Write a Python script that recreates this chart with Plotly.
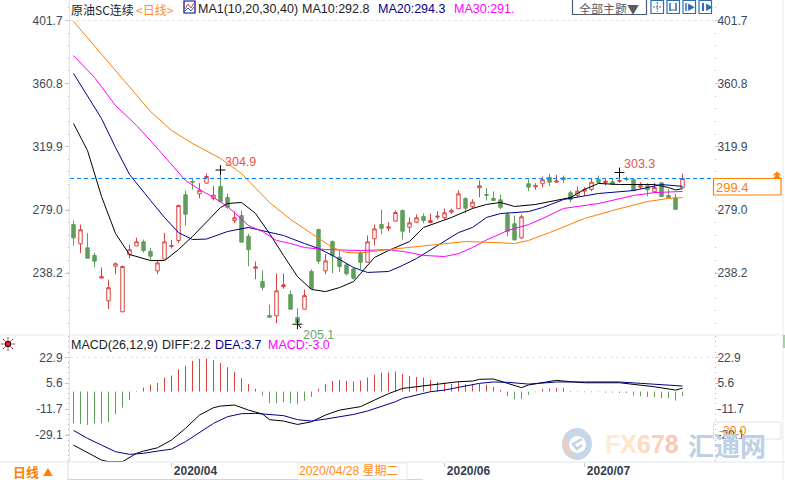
import math
import plotly.graph_objects as go

W, H = 785, 480
FONT = "Liberation Sans, Noto Sans CJK SC, sans-serif"
CJK = "Noto Sans CJK SC, Liberation Sans, sans-serif"

# daily candles
opens = [269.6, 257.1, 254.5, 249.6, 234.9, 220.2, 242.6, 213.1, 250.0, 255.8, 258.4,
         252.2, 239.6, 247.2, 255.5, 259.3, 288.9, 297.4, 289.5, 296.4, 286.5, 294.2,
         287.1, 272.2, 275.4, 261.9, 241.3, 232.7, 210.7, 210.5, 229.5, 224.3, 209.4,
         214.8, 239.2, 266.4, 239.6, 258.6, 248.5, 243.5, 240.9, 251.3, 245.2, 260.4,
         269.6, 267.2, 271.8, 278.7, 267.9, 271.1, 274.8, 270.9, 274.4, 274.0, 277.6,
         279.8, 286.5, 281.1, 293.4, 289.0, 286.5, 285.6, 276.1, 270.1, 261.0, 296.0,
         294.0, 296.0, 300.2, 297.0, 299.9, 290.2, 288.6, 291.2, 292.3, 298.8, 296.8,
         297.3, 297.5, 299.4, 298.6, 293.8, 294.7, 290.8, 296.6, 288.4, 286.9, 293.4]
closes = [261.0, 266.2, 247.8, 245.9, 235.9, 228.7, 244.2, 242.4, 253.3, 258.4, 252.8,
          249.1, 244.8, 258.4, 256.0, 281.9, 276.3, 297.0, 291.8, 300.7, 288.6, 284.5,
          280.8, 274.0, 258.2, 253.3, 242.2, 229.0, 209.6, 226.7, 230.6, 214.8, 206.2,
          223.6, 228.2, 245.9, 246.1, 249.6, 242.4, 237.7, 234.9, 245.2, 258.4, 266.8,
          267.2, 268.1, 277.4, 265.3, 270.7, 274.0, 272.2, 272.2, 275.0, 277.2, 278.7,
          289.5, 280.2, 284.1, 294.7, 288.6, 285.2, 280.8, 265.3, 259.7, 274.6, 293.8,
          294.9, 298.6, 297.0, 297.9, 298.6, 285.8, 291.2, 292.3, 297.0, 296.8, 297.7,
          295.5, 298.1, 298.8, 291.6, 294.7, 292.1, 293.6, 287.8, 286.9, 279.5, 299.4]
highs = [272.2, 269.6, 264.0, 251.3, 241.8, 234.0, 245.2, 243.0, 256.7, 261.0, 259.9,
         254.5, 246.8, 264.2, 259.7, 282.4, 291.6, 299.2, 296.4, 302.6, 294.7, 304.9,
         289.7, 278.2, 278.7, 263.6, 245.7, 239.9, 217.8, 237.9, 237.9, 226.9, 215.4,
         227.5, 240.5, 266.9, 250.6, 259.3, 252.8, 244.8, 242.0, 252.3, 262.5, 269.6,
         279.3, 271.1, 278.7, 279.3, 274.2, 276.1, 276.9, 276.5, 278.2, 280.0, 280.0,
         291.6, 287.1, 286.0, 298.1, 293.4, 291.0, 289.0, 277.6, 275.4, 276.1, 298.8,
         296.4, 300.7, 302.4, 301.8, 301.3, 291.6, 294.2, 293.8, 299.6, 301.3, 299.2,
         299.2, 303.3, 300.7, 299.2, 297.0, 296.4, 296.6, 297.0, 292.7, 289.5, 302.6]
lows = [256.0, 251.0, 247.8, 242.0, 234.9, 214.8, 237.4, 213.1, 247.8, 255.8, 251.5,
        246.8, 237.4, 247.2, 254.1, 257.5, 269.0, 292.3, 286.5, 296.4, 285.2, 284.5,
        279.8, 270.5, 258.2, 242.6, 234.2, 226.9, 209.6, 205.7, 228.0, 214.8, 205.1,
        214.8, 228.2, 244.2, 237.4, 238.1, 238.8, 236.6, 234.0, 240.9, 245.2, 256.0,
        263.2, 265.3, 271.8, 259.9, 264.4, 270.5, 270.5, 270.5, 272.9, 272.7, 276.5,
        279.8, 277.0, 279.8, 287.3, 285.2, 285.2, 279.5, 262.0, 259.3, 260.4, 291.2,
        292.1, 293.8, 294.7, 296.6, 296.4, 284.1, 287.3, 288.4, 291.2, 296.4, 294.9,
        295.5, 296.6, 297.7, 291.6, 292.7, 287.8, 289.9, 287.3, 286.9, 279.5, 293.4]

# moving averages, read at bars where the curve is easy to read
ma10_days = [0, 2, 4, 6, 8, 11, 13, 15, 17, 19, 21, 22, 24, 26, 28, 30, 32, 34, 36, 38, 40,
             41, 43, 45, 48, 50, 52, 54, 57, 59, 61, 63, 66, 68, 71, 73, 75, 78, 83, 85, 86, 87]
ma10 = [335.0, 317.5, 287.8, 263.8, 250.2, 246.3, 246.3, 253.4, 261.9, 271.6, 280.6, 283.2,
        283.9, 276.8, 263.8, 249.6, 235.9, 227.6, 226.2, 228.8, 232.7, 237.9, 248.3, 252.8,
        258.6, 267.7, 270.9, 274.2, 280.0, 282.6, 283.9, 281.3, 282.6, 284.5, 287.1, 292.3,
        296.2, 295.5, 295.5, 293.6, 292.0, 292.8]
ma20_days = [0, 2, 4, 6, 8, 11, 13, 15, 17, 19, 22, 25, 28, 30, 33, 35, 37, 40, 42, 45, 47,
             49, 52, 55, 57, 59, 61, 65, 67, 70, 75, 80, 84, 87]
ma20 = [367.4, 352.5, 338.2, 319.5, 302.0, 285.2, 274.2, 264.4, 259.9, 260.2, 265.1, 267.7,
        264.4, 262.5, 257.3, 254.1, 249.6, 241.8, 238.6, 239.2, 243.1, 247.6, 256.0, 264.4,
        267.7, 274.2, 276.7, 278.0, 280.6, 285.8, 289.7, 291.6, 295.5, 294.3]
ma30_days = [0, 3, 6, 9, 11, 14, 16, 18, 20, 22, 25, 27, 29, 31, 33, 36, 41, 45, 48, 50, 53,
             55, 57, 59, 62, 65, 67, 70, 75, 80, 83, 87]
ma30 = [379.0, 364.8, 346.7, 333.7, 324.0, 308.5, 298.1, 292.3, 287.1, 281.3, 269.0, 265.1,
        259.3, 257.3, 254.7, 253.4, 252.8, 253.4, 251.5, 249.6, 248.9, 250.8, 254.7, 259.6,
        265.7, 269.6, 273.5, 280.0, 283.2, 288.4, 290.3, 291.0]
ma40_days = [0, 4, 8, 11, 14, 17, 21, 24, 28, 31, 34, 37, 39, 41, 45, 49, 53, 56, 60, 63, 65,
             68, 73, 77, 82, 85, 87]
ma40 = [401.1, 379.7, 359.0, 342.8, 330.5, 322.1, 312.4, 302.6, 283.9, 272.9, 263.8, 254.7,
        251.5, 251.2, 253.4, 255.4, 257.3, 258.6, 258.0, 257.3, 259.3, 264.4, 273.5, 278.7,
        284.5, 286.5, 287.1]

# MACD pane
macd_hist = [-21.2, -21.6, -22.3, -21.2, -21.2, -20.5, -15.2, -10.7, -5.6, 0.3, 2.7, 4.5, 5.8,
             9.4, 10.7, 14.9, 17.2, 20.5, 21.9, 21.9, 21.0, 19.2, 16.3, 13.2, 8.9, 5.1, 1.8,
             -2.7, -7.8, -7.8, -7.1, -7.8, -8.5, -6.2, -3.6, 1.8, 4.9, 7.1, 7.8, 7.1, 6.7, 7.4,
             9.4, 11.2, 12.7, 12.7, 13.4, 11.8, 10.5, 9.8, 9.4, 7.8, 6.2, 6.0, 5.1, 6.7, 4.9,
             4.9, 5.1, 4.5, 3.1, 1.1, -2.9, -5.1, -4.9, -2.2, -0.4, 1.8, 2.0, 2.5, 2.5, 0.4,
             -0.4, -0.4, -0.4, -0.4, -0.7, -0.7, -0.9, -0.9, -2.7, -3.1, -3.6, -3.6, -4.5, -4.5,
             -6.0, -3.0]
diff_days = [0, 2, 4, 5, 7, 9, 10, 12, 14, 16, 18, 20, 21, 23, 25, 27, 28, 30, 32, 34, 36, 38,
             41, 43, 45, 47, 49, 51, 53, 55, 57, 58, 60, 62, 63, 64, 65, 67, 69, 71, 73, 78, 80,
             83, 86, 87]
diff = [-35.8, -40.9, -45.8, -46.9, -46.9, -41.3, -39.8, -37.6, -32.4, -24.6, -15.7, -10.8,
        -9.7, -9.0, -12.4, -15.0, -18.8, -19.7, -22.0, -20.2, -15.7, -12.4, -10.1, -5.7, -1.4,
        2.1, 3.2, 4.4, 5.0, 6.6, 7.0, 8.2, 8.4, 5.5, 3.7, 2.6, 4.4, 6.2, 7.5, 6.6, 5.9, 5.9,
        5.0, 3.2, 1.0, 2.2]
dea_days = [0, 2, 4, 6, 8, 10, 12, 14, 16, 18, 20, 22, 24, 26, 28, 30, 32, 34, 36, 38, 40, 42,
            44, 46, 47, 51, 53, 55, 58, 60, 62, 65, 69, 73, 78, 81, 84, 87]
dea = [-26.0, -31.3, -35.8, -40.2, -42.0, -41.3, -39.8, -38.5, -33.5, -27.5, -21.3, -16.8,
       -14.8, -14.6, -15.3, -16.1, -18.8, -19.7, -18.4, -16.8, -15.3, -13.0, -9.7, -6.8, -4.6,
       -0.1, 1.0, 2.8, 5.5, 6.4, 6.2, 5.0, 6.4, 6.4, 6.4, 5.5, 4.4, 3.7]

# axes and labels
price_ticks = [401.7, 360.8, 319.9, 279.0, 238.2]
macd_ticks = [22.9, 5.6, -11.7, -29.1]
month_days = [14, 53, 73]
month_labels = ["2020/04", "2020/06", "2020/07"]
extremes_day = [21, 78, 32]
extremes_val = [304.9, 303.3, 205.1]
last_price = 299.4

days = list(range(len(closes)))

RED = "#d9423e"
GREEN = "#5f9f5b"
TICK_TXT = "#3b4759"
PALE = "#dde6ee"


def px(x):
    return (x - 70) / (W - 70 - 71)


def py(y):
    return 1 - y / H


def stems(keep):
    xs, ys = [], []
    for d, v in zip(days, macd_hist):
        if keep(v):
            xs += [d, d, None]
            ys += [0, v, None]
    return xs, ys


fig = go.Figure()

fig.add_trace(go.Candlestick(
    x=days, open=opens, high=highs, low=lows, close=closes, whiskerwidth=0,
    increasing=dict(line=dict(color=RED, width=1), fillcolor="white"),
    decreasing=dict(line=dict(color=GREEN, width=1), fillcolor=GREEN),
    showlegend=False, hoverinfo="skip"))
for d, v, c in [(ma10_days, ma10, "#000000"), (ma20_days, ma20, "#00008b"),
                (ma30_days, ma30, "#ff00ff"), (ma40_days, ma40, "#ff8000")]:
    fig.add_trace(go.Scatter(x=d, y=v, mode="lines", line=dict(color=c, width=1), showlegend=False))

# black crosses at the high and low
fig.add_trace(go.Scatter(x=extremes_day, y=extremes_val, mode="markers", showlegend=False,
                         marker=dict(symbol="cross-thin", size=7, line=dict(color="black", width=1))))

# histogram as thin stems
for keep, c in [(lambda v: v > 0, RED), (lambda v: v <= 0, GREEN)]:
    xs, ys = stems(keep)
    fig.add_trace(go.Scatter(x=xs, y=ys, mode="lines", xaxis="x2", yaxis="y2", showlegend=False,
                             line=dict(color=c, width=1)))
fig.add_trace(go.Scatter(x=diff_days, y=diff, mode="lines", xaxis="x2", yaxis="y2", showlegend=False,
                         line=dict(color="#000000", width=1)))
fig.add_trace(go.Scatter(x=dea_days, y=dea, mode="lines", xaxis="x2", yaxis="y2", showlegend=False,
                         line=dict(color="#00008b", width=1)))

# empty traces so the right hand axes get drawn
fig.add_trace(go.Scatter(x=days, y=closes, mode="none", yaxis="y3", showlegend=False, hoverinfo="skip"))
fig.add_trace(go.Scatter(x=days, y=macd_hist, mode="none", xaxis="x2", yaxis="y4", showlegend=False, hoverinfo="skip"))

xr = [(70 - 73.5) / 7, (714 - 73.5) / 7]
price_range = [198.1, 414.95]
macd_range = [-47.1, 37.82]
main_dom = [py(335), 1]
macd_dom = [py(462), py(335)]


def yaxis_style(ticks, rng, dom, side, dt):
    return dict(range=rng, domain=dom, side=side, tickvals=ticks, ticktext=[f"{t:.1f}" for t in ticks],
                ticks="outside", ticklen=4, tickcolor="#b9c9dc", showgrid=False, zeroline=False,
                tickfont=dict(family=FONT, size=12, color=TICK_TXT),
                ticklabelstandoff=-4 if side == "right" else 0,
                minor=dict(tick0=ticks[0], dtick=dt, ticks="outside", ticklen=1, tickcolor="#b5b5b5"))


main_left = yaxis_style(price_ticks, price_range, main_dom, "left", 8.17)
main_right = yaxis_style(price_ticks, price_range, main_dom, "right", 8.17)
macd_left = yaxis_style(macd_ticks, macd_range, macd_dom, "left", 3.46)
macd_right = yaxis_style(macd_ticks, macd_range, macd_dom, "right", 3.46)
main_left.update(showline=True, linecolor=PALE, linewidth=1)
macd_left.update(showline=True, linecolor=PALE, linewidth=1)
main_right.update(overlaying="y", anchor="x")
macd_right.update(overlaying="y2", anchor="x2")

fig.update_layout(
    width=W, height=H, margin=dict(l=70, r=71, t=0, b=0, pad=0, autoexpand=False), autosize=False,
    paper_bgcolor="white", plot_bgcolor="white", hovermode=False,
    xaxis=dict(range=xr, domain=[0, 1], anchor="y", showticklabels=False, ticks="", showgrid=False,
               zeroline=False, rangeslider=dict(visible=False)),
    xaxis2=dict(range=xr, domain=[0, 1], anchor="y2", matches="x", showgrid=False, zeroline=False,
                tickvals=month_days, ticktext=[f"<b>{m}</b>" for m in month_labels],
                ticks="outside", ticklen=4, tickcolor="#c3cfdc", ticklabelshift=24, ticklabelstandoff=-6,
                tickfont=dict(family=FONT, size=12, color="#333d4e")),
    yaxis=main_left, yaxis2=macd_left, yaxis3=main_right, yaxis4=macd_right,
)

shapes = []
ann = []


def line(x0, y0, x1, y1, color, width=1, dash=None):
    shapes.append(dict(type="line", xref="paper", yref="paper", x0=px(x0), y0=py(y0), x1=px(x1), y1=py(y1),
                       line=dict(color=color, width=width, dash=dash)))


def rect(x0, y0, x1, y1, color, fill=None, width=1):
    shapes.append(dict(type="rect", xref="paper", yref="paper", x0=px(x0), y0=py(y0), x1=px(x1), y1=py(y1),
                       line=dict(color=color, width=width), fillcolor=fill))


def text(x, y, s, color, size=13, family=FONT, anchor="left"):
    ann.append(dict(xref="paper", yref="paper", x=px(x), y=py(y), text=s, showarrow=False, xanchor=anchor,
                    yanchor="middle", font=dict(family=family, size=size, color=color),
                    borderpad=0, borderwidth=0))


# pane separators and gridlines at the top tick
line(0, 335, 785, 335, "#e6edf3")
line(0, 462, 785, 462, "#dfe7ef")
line(68, 462, 68, 480, "#d5dde6")
line(783, 0, 783, 480, "#e6edf3")
line(784, 335, 784, 348, "#4fa84f")
line(68, 479.5, 423, 479.5, "#cfd6de")
for t, yr in [(price_ticks[0], "y"), (macd_ticks[0], "y2")]:
    shapes.append(dict(type="line", xref="paper", yref=yr, x0=0, x1=1, y0=t, y1=t,
                       line=dict(color="#e3e3e3", width=1, dash="3px,3px")))

# last price line and its box
shapes.append(dict(type="line", xref="paper", yref="y", x0=0, x1=1, y0=last_price, y1=last_price,
                   line=dict(color="#0a80ff", width=1, dash="4px,3px")))
rect(713.5, 178.5, 781, 195, "#ff8000", fill="white", width=1.2)
text(716, 187.5, f"{last_price:.1f}", "#ff8000", size=13)
for top in (171.5, 174.5):
    shapes.append(dict(type="path", xref="paper", yref="paper", fillcolor="#ff8000", line=dict(width=0),
                       path=f"M {px(772.5)} {py(top + 4)} L {px(777)} {py(top)} L {px(781.5)} {py(top + 4)} Z"))

# high / low labels
for d, v, c, dx, dy in zip(extremes_day, extremes_val, ["#e05550", "#e05550", "#6fa86f"], [2, 2, 3], [8, 8, -11]):
    ann.append(dict(xref="x", yref="y", x=d, y=v, text=f"{v:.1f}", showarrow=False, xanchor="left",
                    yanchor="middle", xshift=dx, yshift=dy, font=dict(family=FONT, size=12.5, color=c)))
line(297.5, 323.5, 301, 328, "black")

# header
text(71, 9, "原油SC连续", "#222222", size=12, family=CJK)
text(136, 9, "&lt;日线&gt;", "#ff8c1a", size=12, family=CJK)
rect(184, 1, 195, 13, "#00008b", fill="white", width=1.2)
shapes.append(dict(type="path", xref="paper", yref="paper", line=dict(color="#d9423e", width=1),
                   path=f"M {px(185)} {py(9)} L {px(188)} {py(4)} L {px(191)} {py(8)} L {px(194)} {py(3)}"))
shapes.append(dict(type="path", xref="paper", yref="paper", line=dict(color="#2060c0", width=1),
                   path=f"M {px(185)} {py(11)} L {px(188)} {py(8)} L {px(191)} {py(11)} L {px(194)} {py(7)}"))
text(198, 9, "MA1(10,20,30,40)", "#222222", size=12.5)
text(302, 9, "MA10:292.8", "#222222", size=12.5)
text(378, 9, "MA20:294.3", "#00008b", size=12.5)
text(454, 9, "MA30:291.", "#ff00ff", size=12.5)

rect(572.5, -1, 646.5, 14.5, "#4d5c78", fill="white", width=1.2)
text(579, 8, "全部主题▼", "#5a5a5a", size=12, family=CJK)
for bx in (651, 667, 683, 699):
    rect(bx, 0.5, bx + 12.5, 13.5, "#2a6fb5", fill="white", width=1.2)
line(653, 7, 662, 7, "#2a6fb5", dash="2px,1px")
line(657.3, 2, 657.3, 12, "#2a6fb5", dash="2px,1px")
line(670, 3, 670, 11, "#2a6fb5", width=1.5)
line(676, 3, 676, 11, "#2a6fb5", width=1.5)
line(670, 10, 676, 10, "#2a6fb5")
line(686, 3, 686, 11, "#2a6fb5", width=1.5)
text(687, 7, "▶", "#2a6fb5", size=8, family=CJK)
line(703, 3, 703, 11, "#2a6fb5", width=2)
text(704.5, 7, "▶", "#2a6fb5", size=8, family=CJK)

# MACD header and sun icon
text(71, 345, "MACD(26,12,9)", "#222222", size=12.5)
text(162, 345, "DIFF:2.2", "#222222", size=12.5)
text(215, 345, "DEA:3.7", "#00008b", size=12.5)
text(268, 345, "MACD:-3.0", "#ff00ff", size=12.5)
shapes.append(dict(type="circle", xref="paper", yref="paper", x0=px(5), x1=px(11), y0=py(347), y1=py(341),
                   line=dict(color="black", width=1), fillcolor="#e02020"))
for k in range(8):
    ang = k * math.pi / 4
    line(8 + 4.5 * math.cos(ang), 344 + 4.5 * math.sin(ang), 8 + 7 * math.cos(ang), 344 + 7 * math.sin(ang), "#e02020")

# bottom strip
text(13, 471.5, "<b>日线</b>", "#ff8000", size=13, family=CJK)
text(43, 471.5, "▲", "#ff8000", size=10, family=CJK)
rect(298, 463, 407, 479.5, "#f5e3cf")
text(299, 471, "2020/04/28 星期二", "#ff8c1a", size=12, family=FONT)

# crosshair value box in the MACD pane
rect(713.5, 422, 781, 439, "#e0e4ea")
text(719, 431, "-20.0", "#ff8000", size=12)

# watermark
shapes.append(dict(type="circle", xref="paper", yref="paper", x0=px(562), x1=px(592), y0=py(460), y1=py(428),
                   fillcolor="#bcd0e6", line=dict(width=0), opacity=0.85))
shapes.append(dict(type="path", xref="paper", yref="paper", fillcolor="#f8cdb0", line=dict(width=0), opacity=0.85,
                   path=(f"M {px(566)} {py(434)} Q {px(558)} {py(450)} {px(577)} {py(459)} "
                         f"Q {px(566)} {py(448)} {px(566)} {py(434)} Z")))
shapes.append(dict(type="circle", xref="paper", yref="paper", x0=px(569), x1=px(586), y0=py(453), y1=py(436),
                   fillcolor="white", line=dict(width=0)))
shapes.append(dict(type="path", xref="paper", yref="paper", line=dict(color="#c3d3e6", width=2.5),
                   path=f"M {px(582)} {py(439)} L {px(573)} {py(444)} L {px(577)} {py(449)} L {px(582)} {py(445)}"))
wm = ("<b><span style='color:#fdeccf'>F</span><span style='color:#fde6c6'>X</span>"
      "<span style='color:#fcd9bf'>6</span><span style='color:#fccfb9'>7</span>"
      "<span style='color:#fcc6b6'>8</span></b>")
text(605, 444, wm, "#fcd9bf", size=25, family="Liberation Sans, sans-serif")
text(688, 444, "<b>汇通网</b>", "#bcd0e6", size=26, family=CJK)

fig.update_layout(shapes=shapes, annotations=ann)
fig.write_html("out.html", config=dict(displayModeBar=False),
               post_script="document.body.style.margin='0';")
